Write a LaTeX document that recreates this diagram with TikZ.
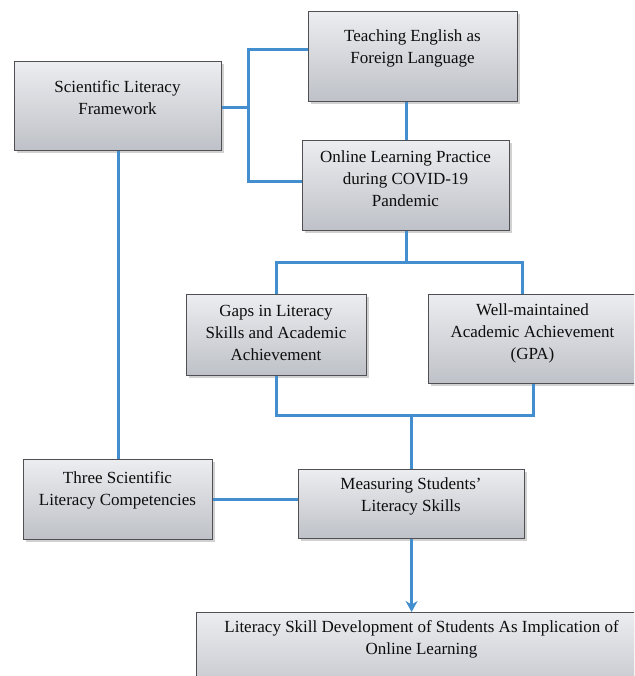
\documentclass[tikz,border=0pt]{standalone}
\usepackage{fontspec}
\setmainfont{Liberation Serif}
\usetikzlibrary{calc,shadows,arrows.meta}
\definecolor{boxtop}{RGB}{236,237,240}
\definecolor{boxbot}{RGB}{190,193,199}
\definecolor{boxline}{RGB}{80,80,84}
\definecolor{link}{RGB}{66,142,206}
\begin{document}
\begin{tikzpicture}[x=1pt, y=-1pt, font=\fontsize{17}{22}\selectfont,
  blk/.style={draw=boxline, line width=1.2pt, top color=boxtop, bottom color=boxbot,
    anchor=north west, inner sep=0pt,
    drop shadow={shadow xshift=2pt, shadow yshift=-2pt, opacity=0.3, fill=black!60}},
  txt/.style={align=center, inner sep=0pt, text=black!95},
  ln/.style={draw=link, line width=3pt}]
\useasboundingbox (0,0) rectangle (634,676);
\clip (0,0) rectangle (634,676);
% boxes (top left corner, pixel grid)
\node[blk, minimum width=207pt, minimum height=89pt] (slf)   at (14,61)   {};
\node[blk, minimum width=209pt, minimum height=90pt] (tefl)  at (308,11)  {};
\node[blk, minimum width=207pt, minimum height=90pt] (olp)   at (302,140) {};
\node[blk, minimum width=180pt, minimum height=81pt] (gaps)  at (186,294) {};
\node[blk, minimum width=209pt, minimum height=89pt] (well)  at (428,294) {};
\node[blk, minimum width=189pt, minimum height=80pt] (three) at (23,459)  {};
\node[blk, minimum width=226pt, minimum height=69pt] (meas)  at (298,469) {};
\node[blk, minimum width=451pt, minimum height=90pt] (lsd)   at (196,612) {};
% texts
\node[txt] (slf-t)   at (117.5,97.5) {Scientific Literacy\\Framework};
\node[txt] (tefl-t)  at (412.5,48)   {Teaching English as\\Foreign Language};
\node[txt] (olp-t)   at (405.5,178.5){Online Learning Practice\\during COVID-19\\Pandemic};
\node[txt] (gaps-t)  at (276,333)    {Gaps in Literacy\\Skills and Academic\\Achievement};
\node[txt] (well-t)  at (532.5,333)  {Well-maintained\\Academic Achievement\\(GPA)};
\node[txt] (three-t) at (117.5,490.5){Three Scientific\\Literacy Competencies};
\node[txt] (meas-t)  at (411,496.5)  {Measuring Students’\\Literacy Skills};
\node[txt] (lsd-t)   at (421.5,639.5){Literacy Skill Development of Students As Implication of\\Online Learning};
% connectors
\coordinate (j1) at (248,108);
\draw[ln] (slf.east |- j1) -- (j1);
\draw[ln] ($(tefl.north west)!0.42!(tefl.south west)$) -| (j1) |- ($(olp.north west)!0.45!(olp.south west)$);
\draw[ln] (tefl.south -| olp.north) -- (olp.north);
\draw[ln] (olp.south) -- ++(0,31) coordinate (j2);
\draw[ln] (gaps.north) |- (j2) -| ($(well.north west)!0.45!(well.north east)$);
\draw[ln] (gaps.south) -- ++(0,39) coordinate (j3) -| (well.south);
\draw[ln] (meas.north) -- (meas.north |- j3);
\draw[ln] (slf.south) -- (three.north);
\draw[ln] (three.east) -- (three.east -| meas.west);
\draw[ln, -{Stealth[length=11pt, width=12pt]}] (meas.south) -- (meas.south |- lsd.north);
\end{tikzpicture}
\end{document}
